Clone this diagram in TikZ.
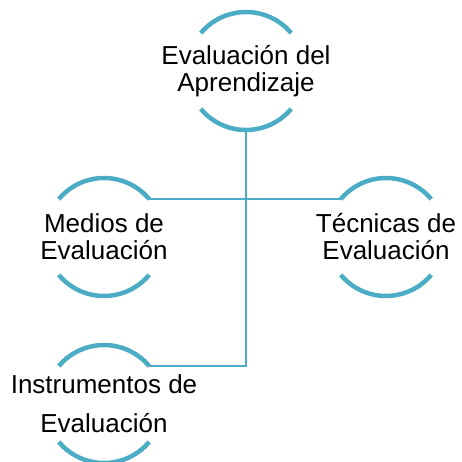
\documentclass[tikz,border=0pt]{standalone}
\usepackage{fontspec}
\setmainfont{Liberation Sans}
\definecolor{azul}{HTML}{4BACC6}
\tikzset{
  tema/.style={align=center, font=\fontsize{26}{27}\selectfont, inner sep=0pt},
  arco/.style={draw=azul, line width=4.5pt},
  enlace/.style={draw=azul, line width=2pt},
}
\begin{document}
\begin{tikzpicture}[x=1pt,y=1pt]
  \useasboundingbox (0,0) rectangle (461,-462);

  % Topics
  \node[tema] (eval) at (246,-71) {Evaluación del\\Aprendizaje};
  \node[tema] (medios) at (104,-237) {Medios de\\Evaluación};
  \node[tema] (tecnicas) at (386,-237) {Técnicas de\\Evaluación};
  \node[tema] (instr) at (104,-404) {Instrumentos de\\[12pt]Evaluación};

  % Arcs round each topic
  \foreach \n in {eval,medios,tecnicas,instr} {
      \draw[arco] ([shift={(40:59)}]\n.center) arc[start angle=40, end angle=140, radius=59];
      \draw[arco] ([shift={(220:59)}]\n.center) arc[start angle=220, end angle=320, radius=59];
    }

  % Connectors
  \draw[enlace] ([shift={(270:59)}]eval.center) |- ([shift={(40:59)}]instr.center);
  \draw[enlace] ([shift={(40:59)}]medios.center) -- ([shift={(140:59)}]tecnicas.center);
\end{tikzpicture}
\end{document}
